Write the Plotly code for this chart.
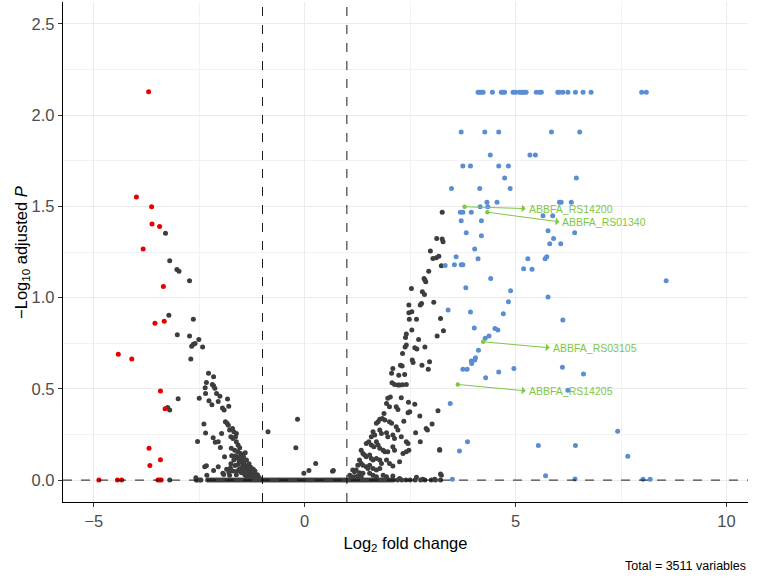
import plotly.graph_objects as go

# ---------------- data ----------------
# non-significant (grey) points
grey_x = [
    -3.30, -3.20, -3.03, -2.98, -2.73, -3.22, -2.64, -3.02, -2.73, -2.51, -2.68, -2.64, -2.60, -2.42, -2.70,
    -3.00, -2.50, -3.25, -3.20, -2.54, -2.39, -2.35,
    -2.28, -2.16, -2.33, -2.19, -2.16, -2.13, -2.36, -2.35, -2.09, -2.01, -2.27, -2.05, -1.83, -2.20, -1.95,
    -1.91, -1.80, -1.88, -1.84, -1.81, -1.78, -1.71, -1.68, -1.62, -1.97, -1.75, -1.70, -1.64, -2.17, -2.12,
    -2.05, -2.00, -1.62, -1.58, -1.54, -1.74, -1.66, -1.90, -1.73, -1.64, -1.58, -1.52, -1.48, -1.45, -1.41,
    -2.37, -2.33, -2.16, -2.05, -1.76, -1.94, -1.92, -2.32, -1.78, -2.58,
    -1.60, -1.55, -1.50, -1.47, -1.44, -1.40, -1.38, -1.35, -1.32, -1.30, -1.28, -1.25, -1.22, -1.20, -1.18,
    -1.15, -1.12, -1.10, -1.07, -1.55, -1.50, -1.45, -1.42, -1.38, -1.33, -1.29, -1.60, -1.65, -1.70, -1.75,
    -1.68, -1.53, -1.48, -1.36, -1.26, -1.21, -1.17, -1.85, -1.80, -1.62, -1.58, -1.43, -1.34, -1.24, -1.13,
    -0.87, -0.17, -0.21, -0.02, 0.10, 0.26, 0.66, 0.68,
    2.98, 3.04, 3.12, 3.18, 2.94, 2.83, 2.87, 2.85, 2.53, 2.79, 2.84, 3.06, 2.77, 2.74, 2.47, 2.47, 2.54,
    2.48, 2.65, 3.22, 2.54, 3.29, 2.41, 2.39, 3.14, 2.70, 2.38, 2.41, 2.61, 2.66, 2.85, 2.32, 2.55, 2.57,
    2.96, 2.78, 2.93, 2.27, 2.31, 2.09, 2.06, 2.23, 2.37, 2.07, 2.13, 2.21, 2.25, 2.32, 2.41, 1.97, 2.03,
    2.29, 2.46, 2.61, 3.16, 1.94, 2.01, 1.88, 2.17, 2.21, 2.45, 2.49, 2.73, 1.78, 1.84, 1.90, 1.70, 1.74,
    2.01, 2.06, 2.35, 2.17, 2.21, 2.88, 2.91, 3.02, 2.63, 1.62, 1.66, 1.58, 1.78, 1.82, 1.94, 1.97, 2.09,
    2.13, 2.29, 2.41, 2.45, 2.74, 3.20, 1.46, 1.52, 1.58, 1.64, 1.70, 1.74, 1.78, 1.86, 1.90, 1.97, 2.09,
    2.13, 2.33, 2.41, 2.47, 2.25, 1.34, 1.38, 1.42, 1.46, 1.54, 1.58, 1.62, 1.70, 1.78, 1.82, 1.94, 2.01,
    2.09, 1.30, 1.34, 1.38, 1.26, 1.46, 1.50, 1.54, 1.62, 1.70, 1.78, 1.14, 1.18, 1.22, 1.30, 1.38, 1.07,
    1.11, 1.18, 1.26, 1.34, 1.54, 1.62, 1.70, 1.86, 1.94, 2.09, 2.25, 2.65, 2.80, 3.08, 3.24,
    3.26, 3.13, 3.26, 3.28, 3.24, 3.20, 3.22,
]
grey_y = [
    1.353, 1.202, 1.154, 1.145, 1.092, 0.904, 0.882, 0.796, 0.789, 0.771, 0.734, 0.744, 0.749, 0.730, 0.663,
    0.446, 0.449, 0.398, 0.384, 0.212, 0.308, 0.258,
    0.585, 0.566, 0.535, 0.524, 0.517, 0.504, 0.506, 0.475, 0.475, 0.459, 0.435, 0.431, 0.444, 0.413, 0.395,
    0.384, 0.405, 0.320, 0.311, 0.301, 0.274, 0.283, 0.265, 0.256, 0.256, 0.237, 0.228, 0.237, 0.232, 0.207,
    0.210, 0.179, 0.210, 0.192, 0.177, 0.174, 0.164, 0.128, 0.133, 0.133, 0.155, 0.146, 0.137, 0.128, 0.150,
    0.073, 0.078, 0.053, 0.073, 0.067, 0.037, 0.031, 0.026, 0.027, 0.013,
    0.120, 0.100, 0.110, 0.090, 0.100, 0.080, 0.110, 0.060, 0.090, 0.050, 0.070, 0.040, 0.060, 0.030, 0.050,
    0.020, 0.030, 0.020, 0.010, 0.060, 0.040, 0.050, 0.030, 0.020, 0.030, 0.020, 0.050, 0.080, 0.050, 0.090,
    0.110, 0.130, 0.070, 0.040, 0.010, 0.015, 0.010, 0.060, 0.045, 0.030, 0.085, 0.065, 0.075, 0.025, 0.012,
    0.265, 0.334, 0.177, 0.037, 0.053, 0.091, 0.049, 0.053,
    1.256, 1.215, 1.218, 1.227, 1.145, 1.105, 1.087, 1.096, 1.050, 1.032, 1.017, 0.974, 0.968, 0.959, 0.959,
    0.917, 0.922, 0.882, 0.882, 0.886, 0.822, 0.818, 0.800, 0.782, 0.789, 0.771, 0.730, 0.740, 0.725, 0.719,
    0.730, 0.694, 0.658, 0.645, 0.648, 0.630, 0.608, 0.630, 0.625, 0.612, 0.585, 0.575, 0.579, 0.533, 0.524,
    0.521, 0.521, 0.522, 0.524, 0.448, 0.456, 0.451, 0.427, 0.416, 0.380, 0.420, 0.402, 0.365, 0.402, 0.387,
    0.369, 0.374, 0.351, 0.333, 0.338, 0.329, 0.311, 0.320, 0.320, 0.311, 0.323, 0.292, 0.274, 0.283, 0.274,
    0.307, 0.259, 0.265, 0.247, 0.237, 0.274, 0.256, 0.259, 0.237, 0.247, 0.228, 0.237, 0.210, 0.201, 0.210,
    0.164, 0.201, 0.210, 0.192, 0.183, 0.210, 0.192, 0.174, 0.164, 0.155, 0.155, 0.183, 0.164, 0.146, 0.155,
    0.164, 0.100, 0.164, 0.146, 0.137, 0.128, 0.137, 0.119, 0.110, 0.119, 0.110, 0.091, 0.110, 0.091, 0.077,
    0.110, 0.091, 0.082, 0.082, 0.073, 0.064, 0.082, 0.064, 0.055, 0.064, 0.055, 0.046, 0.055, 0.040, 0.037,
    0.027, 0.018, 0.018, 0.022, 0.018, 0.037, 0.027, 0.018, 0.027, 0.018, 0.022, 0.009, 0.015, 0.004, 0.004,
    0.027,
    1.468, 1.324, 1.321, 1.306, 1.174, 0.168, 0.033,
]
# grey points lying on the zero line (adjusted P = 1)
zero_x = [
    -3.20, -2.57, -2.55, -2.49, -2.46, -2.30, -2.25, -2.20, -2.15, -2.10, -2.05, -2.00, -1.95, -1.90, -1.85,
    -1.80, -1.75, -1.70, -1.65, -1.60, -1.55, -1.50, -1.45, -1.40, -1.35, -1.30, -1.25, -1.20, -1.15, -1.10,
    -1.05, -1.00, -0.95, -0.90, -0.85, -0.80, -0.75, -0.70, -0.65, -0.60, -0.55, -0.50, -0.45, -0.40, -0.35,
    -0.30, -0.25, -0.20, -0.15, -0.10, -0.05, 0.00, 0.05, 0.10, 0.15, 0.20, 0.25, 0.30, 0.35, 0.40, 0.45,
    0.50, 0.55, 0.60, 0.65, 0.70, 0.75, 0.80, 0.85, 0.90, 0.95, 1.00, 1.05, 1.10, 1.15, 1.20, 1.25, 1.30,
    1.35, 1.40, 1.45, 1.50, 1.55, 1.60, 1.65, 1.70, 1.75, 1.80, 1.85, 1.90, 1.95, 2.00, 2.05, 2.10, 2.20,
    2.30, 2.40, 2.50, 2.62, 2.75, 2.85, 3.00, 3.10, 3.22,
]
zero_y = [0.0] * len(zero_x)

# significant down-regulated (red)
red_x = [-3.70, -3.99, -3.63, -3.62, -3.44, -3.83, -3.35, -3.55, -3.33, -4.42, -4.10, -3.42, -3.31, -3.69,
         -3.42, -3.67, -4.88, -4.44, -4.34, -3.48, -3.44, -3.40]
red_y = [2.128, 1.552, 1.498, 1.403, 1.390, 1.266, 1.061, 0.860, 0.871, 0.689, 0.663, 0.488, 0.391, 0.175,
         0.111, 0.080, 0.0, 0.0, 0.0, 0.0, 0.0, 0.0]

# significant up-regulated (blue)
blue_x = [
    4.11, 4.15, 4.19, 4.23, 4.45, 4.66, 4.70, 4.74, 4.94, 5.00, 5.09, 5.13, 5.17, 5.21, 5.25, 5.49, 5.57,
    5.61, 6.00, 6.04, 6.12, 6.24, 6.42, 6.60, 6.79, 7.99, 8.10,
    3.71, 4.27, 4.60, 5.85, 6.52, 4.40, 5.34, 5.47, 3.75, 3.93, 4.60, 4.83, 4.74, 6.44, 3.48, 4.15, 4.87,
    4.32, 4.56, 6.04, 6.08, 6.32, 4.16, 4.34, 3.69, 3.75, 3.95, 5.65, 5.88, 3.71, 4.19, 5.77, 6.40, 3.83,
    4.19, 5.90, 5.81, 6.07, 4.03, 3.59, 4.11, 5.29, 5.70, 5.74, 3.55, 3.71, 3.75, 3.33, 5.19, 5.39, 4.41,
    3.82, 4.88, 5.77, 4.83, 3.40, 3.93, 4.71, 6.12, 4.02, 4.51, 4.58, 4.28, 4.37, 4.12, 3.95, 3.96, 4.03,
    4.05, 3.75, 3.85, 4.60, 4.96, 4.29, 6.11, 6.61, 3.45, 3.86, 3.67, 3.50, 6.24, 5.54, 6.42, 7.42, 7.66,
    5.71, 6.41, 8.02, 8.19, 8.57,
]
blue_y = [
    2.126, 2.126, 2.126, 2.126, 2.126, 2.126, 2.126, 2.126, 2.126, 2.126, 2.126, 2.126, 2.126, 2.126, 2.126,
    2.126, 2.126, 2.126, 2.126, 2.126, 2.126, 2.126, 2.126, 2.126, 2.126, 2.126, 2.126,
    1.907, 1.907, 1.907, 1.907, 1.907, 1.781, 1.781, 1.781, 1.721, 1.721, 1.721, 1.721, 1.655, 1.655, 1.598,
    1.598, 1.598, 1.522, 1.522, 1.522, 1.522, 1.522, 1.498, 1.498, 1.468, 1.468, 1.468, 1.448, 1.448, 1.421,
    1.421, 1.366, 1.355, 1.355, 1.339, 1.324, 1.295, 1.295, 1.266, 1.224, 1.213, 1.213, 1.213, 1.224, 1.180,
    1.180, 1.180, 1.176, 1.158, 1.155, 1.105, 1.054, 1.037, 1.004, 0.977, 0.932, 0.921, 0.911, 0.878, 0.833,
    0.831, 0.822, 0.778, 0.789, 0.712, 0.652, 0.639, 0.658, 0.670, 0.607, 0.607, 0.592, 0.612, 0.561, 0.618,
    0.581, 0.420, 0.210, 0.159, 0.004, 0.493, 0.190, 0.190, 0.268, 0.131, 0.024, 0.006, 0.005, 0.005, 1.092,
]

# labelled genes
label_names = ["ABBFA_RS14200", "ABBFA_RS01340", "ABBFA_RS03105", "ABBFA_RS14205"]
label_x = [3.79, 4.33, 4.23, 3.63]
label_y = [1.498, 1.468, 0.758, 0.524]
label_text_x = [5.24, 6.04, 5.81, 5.24]
label_text_y = [1.488, 1.415, 0.725, 0.489]

x_ticks = [-5, 0, 5, 10]
x_tick_labels = ["\u22125", "0", "5", "10"]
y_ticks = [0.0, 0.5, 1.0, 1.5, 2.0, 2.5]
y_tick_labels = ["0.0", "0.5", "1.0", "1.5", "2.0", "2.5"]

# ---------------- figure ----------------
GREY = "#3d3d3d"
RED = "#e60000"
BLUE = "#5b8dd2"
GREEN = "#7cc843"
FONT = "Liberation Sans, Arial, Helvetica, sans-serif"

fig = go.Figure()
mk = dict(size=5, line=dict(width=0))
fig.add_trace(go.Scatter(x=zero_x, y=zero_y, mode="markers", marker=dict(color=GREY, **mk), hoverinfo="skip"))
fig.add_trace(go.Scatter(x=grey_x, y=grey_y, mode="markers", marker=dict(color=GREY, **mk)))
fig.add_trace(go.Scatter(x=red_x, y=red_y, mode="markers", marker=dict(color=RED, **mk)))
fig.add_trace(go.Scatter(x=blue_x, y=blue_y, mode="markers", marker=dict(color=BLUE, **mk)))
fig.add_trace(go.Scatter(x=label_x, y=label_y, mode="markers", marker=dict(color=GREEN, size=4.4, line=dict(width=0))))

# cut-off lines
for xv in (-1, 1):
    fig.add_shape(type="line", x0=xv, x1=xv, y0=0, y1=1, xref="x", yref="paper",
                  line=dict(color="black", width=0.9, dash="dash"))
fig.add_shape(type="line", x0=0, x1=1, y0=0, y1=0, xref="paper", yref="y",
              line=dict(color="black", width=0.9, dash="dash"))

# labels with connectors
for name, px, py, tx, ty in zip(label_names, label_x, label_y, label_text_x, label_text_y):
    fig.add_annotation(x=tx, y=ty, ax=px, ay=py, xref="x", yref="y", axref="x", ayref="y",
                       text="", showarrow=True, arrowhead=1, arrowsize=1.3, arrowwidth=1,
                       arrowcolor=GREEN, standoff=0, startstandoff=0)
    fig.add_annotation(x=tx, y=ty, xref="x", yref="y", text=name, showarrow=False,
                       xanchor="left", yanchor="middle", xshift=1,
                       font=dict(family=FONT, size=10.5, color=GREEN))

fig.add_annotation(x=1, y=-0.128, xref="paper", yref="paper", text="Total = 3511 variables",
                   showarrow=False, xanchor="right", yanchor="middle",
                   font=dict(family=FONT, size=12.5, color="black"))

# y-axis title placed as an annotation so its distance from the axis matches
fig.add_annotation(x=-0.060, y=0.5, xref="paper", yref="paper",
                   text="\u2212Log<sub>10</sub> adjusted <i>P</i>", textangle=-90,
                   showarrow=False, xanchor="center", yanchor="middle",
                   font=dict(family=FONT, size=16.5, color="black"))

fig.update_layout(
    width=760, height=580,
    margin=dict(l=63, r=12, t=2, b=78),
    plot_bgcolor="white", paper_bgcolor="white",
    showlegend=False,
    font=dict(family=FONT, color="black"),
    xaxis=dict(
        range=[-5.73, 10.51], tickvals=x_ticks, ticktext=x_tick_labels, automargin=False,
        showgrid=True, gridcolor="#ebebeb", gridwidth=1.4,
        minor=dict(showgrid=True, gridcolor="#f2f2f2", gridwidth=0.8, dtick=2.5, tick0=-2.5),
        zeroline=False, showline=True, linecolor="black", linewidth=1.3,
        ticks="outside", ticklen=4, tickwidth=1.1, tickcolor="#333333",
        tickfont=dict(family=FONT, size=16.5, color="#4d4d4d"),
        title=dict(text="Log<sub>2</sub> fold change", font=dict(family=FONT, size=16.5, color="black"), standoff=8),
    ),
    yaxis=dict(
        range=[-0.12, 2.62], tickvals=y_ticks, ticktext=y_tick_labels, automargin=False,
        showgrid=True, gridcolor="#ebebeb", gridwidth=1.4,
        minor=dict(showgrid=True, gridcolor="#f2f2f2", gridwidth=0.8, dtick=0.25, tick0=0.25),
        zeroline=False, showline=True, linecolor="black", linewidth=1.3,
        ticks="outside", ticklen=4, tickwidth=1.1, tickcolor="#333333",
        tickfont=dict(family=FONT, size=16.5, color="#4d4d4d"),
    ),
)

# remove the browser's default page margin so the figure sits at the window origin
fig.write_html("out.html", config={"displayModeBar": False},
               post_script="document.body.style.margin='0';")
